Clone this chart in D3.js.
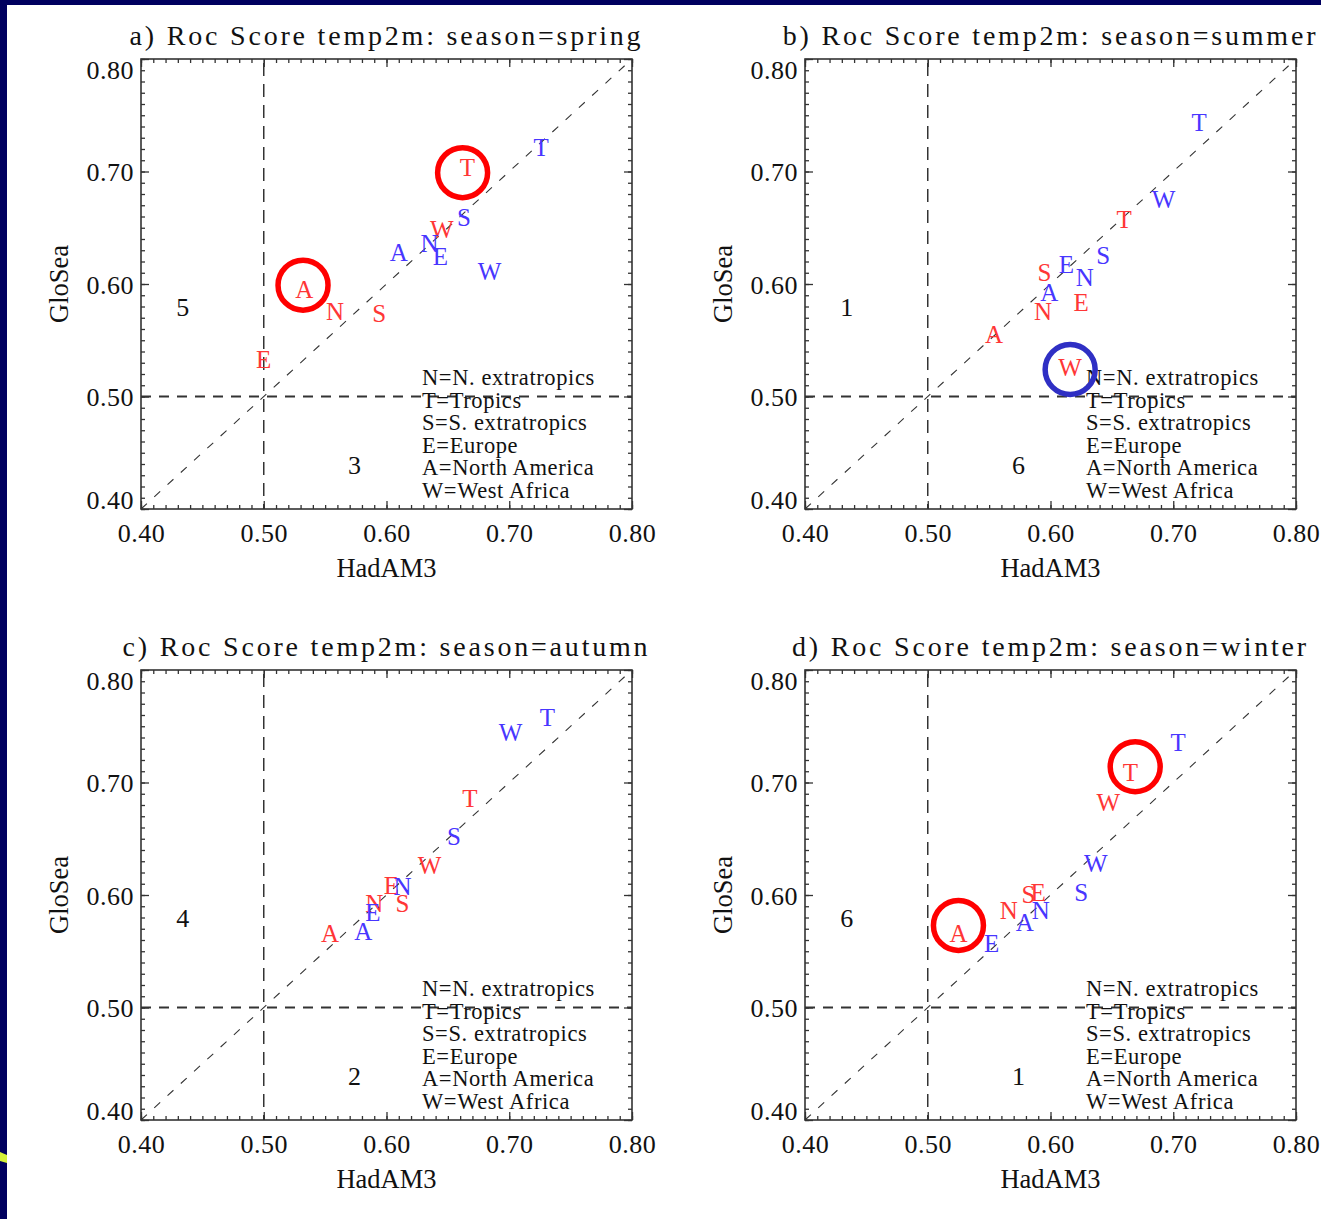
<!DOCTYPE html>
<html>
<head>
<meta charset="utf-8">
<script src="https://cdn.jsdelivr.net/npm/d3@7"></script>
<style>
  html, body { margin: 0; padding: 0; background: #ffffff; }
  svg { display: block; }
  text { font-family: "Liberation Serif", "Times New Roman", serif; fill: #111; }
</style>
</head>
<body>
<svg id="chart" width="1321" height="1219"></svg>
<script>
// ---------------- DATA ----------------
const panelTags = ["a", "b", "c", "d"];
const seasons = ["spring", "summer", "autumn", "winter"];
const regionCodes = ["N", "T", "S", "E", "A", "W"];
const legendLines = ["N=N. extratropics", "T=Tropics", "S=S. extratropics",
                     "E=Europe", "A=North America", "W=West Africa"];
const xTickValues = [0.40, 0.50, 0.60, 0.70, 0.80];
const yTickValues = [0.40, 0.50, 0.60, 0.70, 0.80];
const axisDomain = [0.4, 0.8];
const xAxisTitle = "HadAM3";
const yAxisTitle = "GloSea";

// [HadAM3, GloSea] per region in order N, T, S, E, A, W
const springRed  = [[0.558,0.575],[0.666,0.703],[0.594,0.574],[0.500,0.533],[0.533,0.595],[0.645,0.648]];
const springBlue = [[0.635,0.636],[0.726,0.721],[0.663,0.659],[0.644,0.624],[0.610,0.628],[0.684,0.611]];
const summerRed  = [[0.594,0.575],[0.660,0.657],[0.595,0.610],[0.625,0.583],[0.554,0.555],[0.616,0.526]];
const summerBlue = [[0.628,0.606],[0.721,0.743],[0.643,0.625],[0.613,0.617],[0.599,0.592],[0.692,0.675]];
const autumnRed  = [[0.590,0.592],[0.668,0.686],[0.613,0.592],[0.604,0.608],[0.554,0.566],[0.635,0.626]];
const autumnBlue = [[0.613,0.607],[0.731,0.758],[0.655,0.652],[0.589,0.584],[0.581,0.567],[0.701,0.744]];
const winterRed  = [[0.566,0.586],[0.665,0.709],[0.582,0.600],[0.590,0.602],[0.525,0.566],[0.647,0.682]];
const winterBlue = [[0.592,0.586],[0.704,0.735],[0.625,0.602],[0.552,0.557],[0.579,0.575],[0.637,0.628]];

// highlight circles: [HadAM3, GloSea, kind]
const springCircles = [[0.532,0.599,"red"],[0.662,0.699,"red"]];
const summerCircles = [[0.616,0.524,"blue"]];
const autumnCircles = [];
const winterCircles = [[0.669,0.714,"red"],[0.525,0.573,"red"]];

// counts of regions above / below the diagonal, and where they are written
const countsUpper = [5, 1, 4, 6];
const countsLower = [3, 6, 2, 1];
const countUpperPos = [0.434, 0.572];
const countLowerPos = [0.574, 0.431];

// ---------------- STYLE / LAYOUT ----------------
const redSet = [springRed, summerRed, autumnRed, winterRed];
const blueSet = [springBlue, summerBlue, autumnBlue, winterBlue];
const circleSet = [springCircles, summerCircles, autumnCircles, winterCircles];
const letterColor = { red: "#ff3636", blue: "#4836ff" };
const circleColor = { red: "#ff0000", blue: "#2f2fc4" };
const origins = [[141, 59], [805, 59], [141, 670], [805, 670]];
const W = 491, H = 450;

const svg = d3.select("#chart");

// slide frame
svg.append("rect").attr("x", 0).attr("y", 0).attr("width", 1321).attr("height", 1219).attr("fill", "#fff");
svg.append("rect").attr("x", 0).attr("y", 0).attr("width", 1321).attr("height", 5).attr("fill", "#00005f");
svg.append("rect").attr("x", 0).attr("y", 0).attr("width", 7).attr("height", 1219).attr("fill", "#00005f");
svg.append("path").attr("d", "M0,1152 L7,1155 L7,1163 L0,1161 Z").attr("fill", "#d4f03a");

const x = d3.scaleLinear().domain(axisDomain).range([0, W]);
const y = d3.scaleLinear().domain(axisDomain).range([H, 0]);
const minorVals = d3.range(0, 41).map(i => +(0.4 + i * 0.01).toFixed(2));
const fmt = d3.format(".2f");

panelTags.forEach((tag, p) => {
  const [ox, oy] = origins[p];
  const g = svg.append("g").attr("transform", `translate(${ox},${oy})`);

  // reference lines
  g.append("line")
    .attr("x1", x(0.4)).attr("y1", y(0.4)).attr("x2", x(0.8)).attr("y2", y(0.8))
    .attr("stroke", "#333").attr("stroke-width", 1.1).attr("stroke-dasharray", "8,10");
  g.append("line")
    .attr("x1", x(0.5)).attr("y1", y(0.8) + 4).attr("x2", x(0.5)).attr("y2", y(0.4))
    .attr("stroke", "#333").attr("stroke-width", 1.5).attr("stroke-dasharray", "13,8");
  g.append("line")
    .attr("x1", x(0.4)).attr("y1", y(0.5)).attr("x2", x(0.8)).attr("y2", y(0.5))
    .attr("stroke", "#333").attr("stroke-width", 1.8).attr("stroke-dasharray", "10,8");

  // axes (ticks point inward, on all four sides)
  const mk = (axisFn, scale, vals, size, labels) => {
    const a = axisFn(scale).tickValues(vals).tickSizeInner(size).tickSizeOuter(0);
    a.tickFormat(labels ? fmt : () => "");
    return a;
  };
  const bottom = g.append("g").attr("transform", `translate(0,${H})`);
  bottom.call(mk(d3.axisBottom, x, minorVals, -4, false));
  bottom.append("g").call(mk(d3.axisBottom, x, xTickValues, -8, true));
  const top = g.append("g");
  top.call(mk(d3.axisTop, x, minorVals, -4, false));
  top.append("g").call(mk(d3.axisTop, x, xTickValues, -8, false));
  const left = g.append("g");
  left.call(mk(d3.axisLeft, y, minorVals, -4, false));
  left.append("g").call(mk(d3.axisLeft, y, yTickValues, -8, true));
  const right = g.append("g").attr("transform", `translate(${W},0)`);
  right.call(mk(d3.axisRight, y, minorVals, -4, false));
  right.append("g").call(mk(d3.axisRight, y, yTickValues, -8, false));

  g.selectAll(".domain").remove();
  g.selectAll(".tick line").attr("stroke", "#333").attr("stroke-width", 1.3);
  g.append("rect").attr("x", 0).attr("y", 0).attr("width", W).attr("height", H)
    .attr("fill", "none").attr("stroke", "#333").attr("stroke-width", 1.6);

  // tick label styling
  bottom.selectAll(".tick text")
    .attr("font-family", "Liberation Serif").attr("font-size", 26).attr("fill", "#111")
    .attr("letter-spacing", "0.5px").attr("y", 0).attr("dy", 0)
    .attr("transform", "translate(0,33)");
  left.selectAll(".tick text")
    .attr("font-family", "Liberation Serif").attr("font-size", 26).attr("fill", "#111")
    .attr("letter-spacing", "0.5px").attr("x", -7).attr("dy", 0)
    .attr("transform", d => {
      let dy = 9;
      if (Math.abs(d - 0.8) < 1e-6) dy = 19;
      if (Math.abs(d - 0.4) < 1e-6) dy = -1;
      return `translate(0,${dy})`;
    });

  // titles
  g.append("text")
    .attr("x", W / 2).attr("y", -14).attr("text-anchor", "middle")
    .attr("font-size", 28).attr("letter-spacing", "2.8px")
    .text(`${tag}) Roc Score temp2m: season=${seasons[p]}`);
  g.append("text")
    .attr("x", W / 2).attr("y", H + 68).attr("text-anchor", "middle")
    .attr("font-size", 26.5).text(xAxisTitle);
  g.append("text")
    .attr("transform", `translate(-73,${H / 2}) rotate(-90)`)
    .attr("text-anchor", "middle").attr("font-size", 26.5).text(yAxisTitle);

  // legend
  legendLines.forEach((line, i) => {
    g.append("text")
      .attr("x", 281).attr("y", 326 + i * 22.5)
      .attr("font-size", 22.5).attr("letter-spacing", "0.6px")
      .text(line);
  });

  // counts
  g.append("text").attr("x", x(countUpperPos[0])).attr("y", y(countUpperPos[1]))
    .attr("text-anchor", "middle").attr("font-size", 26).text(countsUpper[p]);
  g.append("text").attr("x", x(countLowerPos[0])).attr("y", y(countLowerPos[1]))
    .attr("text-anchor", "middle").attr("font-size", 26).text(countsLower[p]);

  // letter markers
  const drawSet = (pts, kind) => {
    g.append("g").selectAll("text").data(pts).join("text")
      .attr("x", d => x(d[0])).attr("y", d => y(d[1]))
      .attr("dy", "0.33em").attr("text-anchor", "middle")
      .attr("font-size", 25).attr("fill", letterColor[kind]).style("fill", letterColor[kind])
      .text((d, i) => regionCodes[i]);
  };
  drawSet(redSet[p], "red");
  drawSet(blueSet[p], "blue");

  // highlight circles
  g.append("g").selectAll("circle").data(circleSet[p]).join("circle")
    .attr("cx", d => x(d[0])).attr("cy", d => y(d[1])).attr("r", 25)
    .attr("fill", "none").attr("stroke", d => circleColor[d[2]]).attr("stroke-width", 5.5);
});
</script>
</body>
</html>
